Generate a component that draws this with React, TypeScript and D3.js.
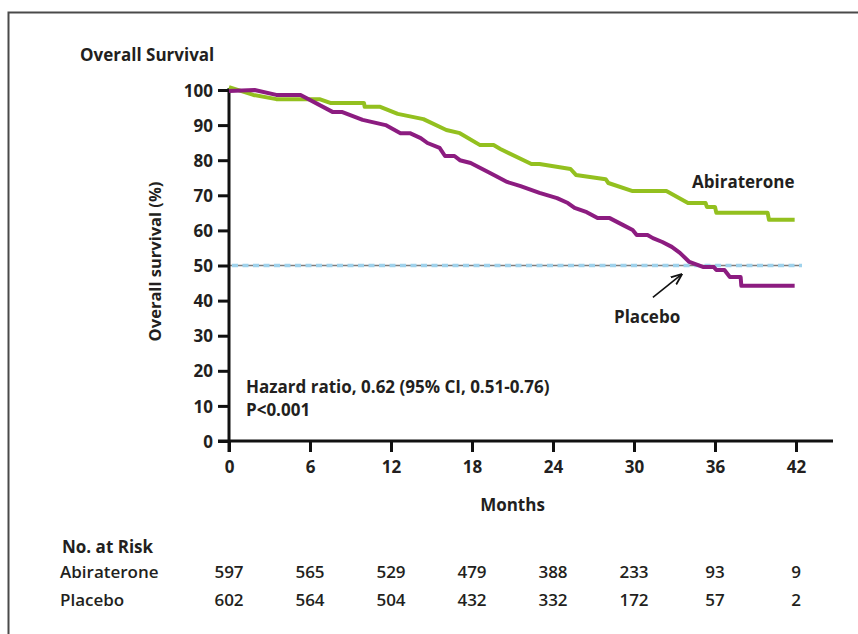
import { useRef, useEffect } from 'react';
import * as d3 from 'd3';

const monthTicks = [0, 6, 12, 18, 24, 30, 36, 42];
const pctTicks = [0, 10, 20, 30, 40, 50, 60, 70, 80, 90, 100];

const abiraterone: [number, number][] = [
  [0, 100.8], [1.8, 98.6], [3.5, 97.4], [6.7, 97.4], [7.5, 96.3], [10, 96.3],
  [10.05, 95.2], [11.2, 95.2], [12.5, 93.2], [14.4, 91.7], [16.1, 88.6],
  [17.1, 87.7], [18.6, 84.3], [19.6, 84.3], [20.1, 83.2], [22.4, 78.9],
  [23, 78.9], [25.3, 77.5], [25.7, 75.8], [27.9, 74.6], [28.1, 73.5],
  [29.9, 71.2], [32.4, 71.2], [34, 67.8], [35.3, 67.8], [35.4, 66.7],
  [36, 66.7], [36.1, 65], [39.9, 65], [40, 63], [41.9, 63],
];

const placebo: [number, number][] = [
  [0, 99.7], [1.9, 100], [3.5, 98.6], [5.3, 98.6], [7.7, 93.7], [8.4, 93.7],
  [9.9, 91.5], [11.6, 90], [12.7, 87.7], [13.4, 87.7], [14.2, 86.3],
  [14.7, 84.9], [15.6, 83.5], [16, 81.2], [16.7, 81.2], [17.1, 80],
  [17.9, 79.2], [19.3, 76.4], [19.9, 75.2], [20.6, 73.8], [21.6, 72.6],
  [23, 70.7], [24.3, 69.2], [25.1, 67.8], [25.6, 66.4], [26.5, 65.2],
  [27.3, 63.5], [28.2, 63.5], [29.2, 61.5], [29.9, 60.1], [30.2, 58.7],
  [31, 58.7], [31.4, 57.8], [32.1, 56.7], [32.8, 55.3], [33.4, 53.6],
  [34.1, 51], [35.1, 49.6], [35.9, 49.6], [36.1, 48.7], [36.7, 48.7],
  [37.1, 46.7], [37.9, 46.7], [37.95, 44.2], [41.9, 44.2],
];

const riskGroups = ['Abiraterone', 'Placebo'];
const abiRisk = [597, 565, 529, 479, 388, 233, 93, 9];
const plaRisk = [602, 564, 504, 432, 332, 172, 57, 2];

const GREEN = '#93c01f';
const PURPLE = '#8c1c80';
const INK = '#231f20';
const FONT = '"Open Sans", "DejaVu Sans", sans-serif';

export default function App() {
  const ref = useRef<SVGSVGElement>(null);

  useEffect(() => {
    if (!ref.current) return;
    const svg = d3.select(ref.current);
    svg.selectAll('*').remove();

    const x = d3.scaleLinear().domain([0, 42]).range([229, 796]);
    const y = d3.scaleLinear().domain([0, 100]).range([441, 90]);

    // frame
    svg.append('rect')
      .attr('x', 8.5).attr('y', 12.5).attr('width', 900).attr('height', 700)
      .attr('fill', 'none').attr('stroke', '#4a4a4a').attr('stroke-width', 2);

    // 50% reference line
    svg.append('line')
      .attr('x1', x(0)).attr('x2', x(42) + 6).attr('y1', y(50)).attr('y2', y(50))
      .attr('stroke', '#7d7d7d').attr('stroke-width', 1.5);
    svg.append('line')
      .attr('x1', x(0) + 3).attr('x2', x(42) + 6).attr('y1', y(50)).attr('y2', y(50))
      .attr('stroke', '#9fd2ec').attr('stroke-width', 3.5)
      .attr('stroke-dasharray', '6,4.5');

    // axes
    const gy = svg.append('g')
      .attr('transform', `translate(${x(0)},0)`)
      .call(d3.axisLeft(y).tickValues(pctTicks).tickSize(11).tickPadding(5));
    gy.select('.domain').remove();
    gy.append('line')
      .attr('x1', 0).attr('x2', 0).attr('y1', y(100) - 2).attr('y2', y(0) + 11)
      .attr('stroke', '#111').attr('stroke-width', 3);

    const gx = svg.append('g')
      .attr('transform', `translate(0,${y(0)})`)
      .call(d3.axisBottom(x).tickValues(monthTicks).tickSize(11).tickPadding(9));
    gx.select('.domain').remove();
    gx.append('line')
      .attr('x1', x(0) - 11).attr('x2', 833).attr('y1', 0).attr('y2', 0)
      .attr('stroke', '#111').attr('stroke-width', 3);

    [gx, gy].forEach(g => {
      g.selectAll('.tick line').attr('stroke', '#111').attr('stroke-width', 3);
      g.selectAll('.tick text')
        .attr('fill', INK)
        .attr('font-family', FONT)
        .attr('font-weight', 700)
        .attr('font-size', 17);
    });
    gy.selectAll('.tick text').attr('dy', '0.36em');

    // curves
    const line = d3.line<[number, number]>()
      .x(d => x(d[0]))
      .y(d => y(d[1]));

    svg.append('path')
      .attr('d', line(abiraterone))
      .attr('fill', 'none').attr('stroke', GREEN).attr('stroke-width', 4)
      .attr('stroke-linejoin', 'round');
    svg.append('path')
      .attr('d', line(placebo))
      .attr('fill', 'none').attr('stroke', PURPLE).attr('stroke-width', 4)
      .attr('stroke-linejoin', 'round');

    // arrow to median
    const defs = svg.append('defs');
    defs.append('marker')
      .attr('id', 'arr').attr('viewBox', '0 0 10 10')
      .attr('refX', 9).attr('refY', 5)
      .attr('markerWidth', 7).attr('markerHeight', 7)
      .attr('orient', 'auto')
      .append('path').attr('d', 'M0,1 L10,5 L0,9').attr('fill', 'none')
      .attr('stroke', '#111').attr('stroke-width', 1.6);
    svg.append('line')
      .attr('x1', x(31.4)).attr('y1', y(40.9))
      .attr('x2', x(33.5)).attr('y2', y(47.4))
      .attr('stroke', '#111').attr('stroke-width', 1.6)
      .attr('marker-end', 'url(#arr)');

    const text = (tx: number, ty: number, s: string, size = 17, anchor = 'start', weight = 700) =>
      svg.append('text')
        .attr('x', tx).attr('y', ty)
        .attr('text-anchor', anchor)
        .attr('font-family', FONT)
        .attr('font-weight', weight)
        .attr('font-size', size)
        .attr('fill', INK)
        .text(s);

    text(80, 61, 'Overall Survival', 17);
    text(692, 188, 'Abiraterone', 17);
    text(614, 323, 'Placebo', 17);
    text(246, 393, 'Hazard ratio, 0.62 (95% CI, 0.51-0.76)', 17);
    text(246, 416, 'P<0.001', 17);
    text(x(21), 511, 'Months', 17, 'middle');
    text(0, 0, 'Overall survival (%)', 16.5, 'middle')
      .attr('transform', `translate(161,${y(50) - 4}) rotate(-90)`);

    // number at risk table
    text(62, 553, 'No. at Risk', 17);
    const rows = [abiRisk, plaRisk];
    rows.forEach((vals, i) => {
      const ry = 578 + i * 28;
      text(60, ry, riskGroups[i], 17, 'start', 600);
      vals.forEach((v, j) => {
        text(x(monthTicks[j]), ry, String(v), 17, 'middle', 600);
      });
    });
  }, []);

  return (
    <svg
      ref={ref}
      width={858}
      height={634}
      style={{ position: 'absolute', left: 0, top: 0, background: '#fff' }}
    />
  );
}
